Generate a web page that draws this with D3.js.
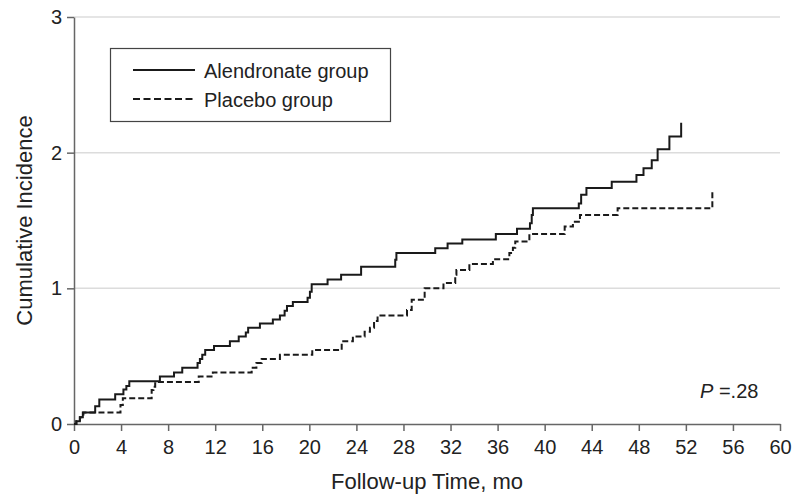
<!DOCTYPE html>
<html>
<head>
<meta charset="utf-8">
<script src="https://cdn.jsdelivr.net/npm/d3@7"></script>
<style>
  body { margin: 0; background: #fff; }
  svg { font-family: "Liberation Sans", Arial, sans-serif; }
</style>
</head>
<body>
<div id="chart"></div>
<script>
// follow-up months and cumulative incidence
const alendronateTime  = [0, 0.2, 0.5, 0.75, 1.8, 2.15, 3.5, 4.2, 4.45, 4.7, 7.3, 8.5, 9.2, 10.5, 10.7, 10.9, 11.15, 11.9, 13.25, 14.0, 14.6, 14.8, 15.8, 16.9, 17.5, 17.9, 18.1, 18.6, 19.85, 20.05, 20.2, 21.55, 22.7, 24.4, 27.3, 27.4, 30.7, 31.75, 33.0, 35.85, 37.65, 38.75, 38.9, 39.0, 42.9, 43.1, 43.55, 45.7, 47.8, 48.4, 49.1, 49.6, 50.6, 51.6];
const alendronateValue = [0, 0.02, 0.05, 0.085, 0.13, 0.18, 0.22, 0.255, 0.28, 0.315, 0.35, 0.38, 0.415, 0.45, 0.48, 0.51, 0.545, 0.575, 0.61, 0.645, 0.675, 0.71, 0.74, 0.77, 0.80, 0.835, 0.87, 0.90, 0.93, 0.975, 1.03, 1.065, 1.10, 1.16, 1.21, 1.26, 1.295, 1.33, 1.36, 1.40, 1.44, 1.48, 1.54, 1.59, 1.625, 1.69, 1.74, 1.785, 1.835, 1.885, 1.945, 2.025, 2.12, 2.22];

const placeboTime  = [0, 0.2, 0.5, 0.8, 3.95, 4.15, 6.6, 6.75, 6.9, 10.6, 11.8, 15.1, 15.5, 15.95, 17.5, 20.25, 22.75, 23.7, 24.7, 25.15, 25.5, 25.8, 28.3, 28.7, 29.8, 31.4, 32.4, 32.5, 33.6, 35.6, 37.0, 37.3, 37.5, 38.7, 41.7, 42.4, 43.0, 46.2, 54.25];
const placeboValue = [0, 0.02, 0.05, 0.085, 0.14, 0.19, 0.25, 0.275, 0.31, 0.35, 0.38, 0.415, 0.45, 0.48, 0.51, 0.545, 0.61, 0.645, 0.68, 0.71, 0.76, 0.80, 0.84, 0.915, 1.0, 1.04, 1.10, 1.135, 1.18, 1.215, 1.26, 1.30, 1.345, 1.40, 1.455, 1.49, 1.54, 1.59, 1.71];

const xTicks = d3.range(0, 61, 4);
const yTicks = [0, 1, 2, 3];
const seriesNames = ["Alendronate group", "Placebo group"];
const pLabel = "=.28";

const width = 797, height = 500;
const margin = {top: 17, right: 17, bottom: 76, left: 74};

const svg = d3.select("#chart").append("svg")
  .attr("width", width)
  .attr("height", height);

const x = d3.scaleLinear().domain([0, 60]).range([margin.left, width - margin.right]);
const y = d3.scaleLinear().domain([0, 3]).range([height - margin.bottom, margin.top]);

// grid
svg.append("g").selectAll("line")
  .data(yTicks.filter(d => d > 0))
  .enter().append("line")
  .attr("x1", x(0)).attr("x2", x(60))
  .attr("y1", d => y(d)).attr("y2", d => y(d))
  .attr("stroke", "#dcdcdc")
  .attr("stroke-width", 1.5);

// axes
const xAxis = svg.append("g")
  .attr("transform", "translate(0," + y(0) + ")")
  .call(d3.axisBottom(x).tickValues(xTicks).tickSize(7).tickPadding(9).tickSizeOuter(0));

const yAxis = svg.append("g")
  .attr("transform", "translate(" + x(0) + ",0)")
  .call(d3.axisLeft(y).tickValues(yTicks).tickFormat(d3.format("d")).tickSize(7).tickPadding(5).tickSizeOuter(0));

[xAxis, yAxis].forEach(g => {
  g.select(".domain").attr("stroke", "#666").attr("stroke-width", 1.5);
  g.selectAll(".tick line").attr("stroke", "#666").attr("stroke-width", 1.5);
  g.selectAll(".tick text")
    .attr("fill", "#222")
    .style("font-size", "20px")
    .style("font-family", "Liberation Sans, Arial, sans-serif");
});

// axis titles
svg.append("text")
  .attr("x", (x(0) + x(60)) / 2)
  .attr("y", 489)
  .attr("text-anchor", "middle")
  .attr("fill", "#222")
  .style("font-size", "22px")
  .text("Follow-up Time, mo");

svg.append("text")
  .attr("transform", "translate(32," + (y(0) + y(3)) / 2 + ") rotate(-90)")
  .attr("text-anchor", "middle")
  .attr("fill", "#222")
  .style("font-size", "22px")
  .text("Cumulative Incidence");

// curves
const line = d3.line()
  .x(d => x(d[0]))
  .y(d => y(d[1]))
  .curve(d3.curveStepAfter);

const series = [
  {pts: d3.zip(alendronateTime, alendronateValue), dash: null},
  {pts: d3.zip(placeboTime, placeboValue), dash: "6,3"}
];

svg.append("g").selectAll("path")
  .data(series)
  .enter().append("path")
  .attr("d", d => line(d.pts))
  .attr("fill", "none")
  .attr("stroke", "#1a1a1a")
  .attr("stroke-width", 2)
  .attr("stroke-dasharray", d => d.dash);

// legend
const legend = svg.append("g");
legend.append("rect")
  .attr("x", 110.5).attr("y", 48.5)
  .attr("width", 280).attr("height", 73)
  .attr("fill", "#fff")
  .attr("stroke", "#444")
  .attr("stroke-width", 1.2);

const legendRows = legend.selectAll(".row")
  .data(seriesNames)
  .enter().append("g")
  .attr("class", "row")
  .attr("transform", (d, i) => "translate(0," + (70 + i * 29) + ")");

legendRows.append("line")
  .attr("x1", 133).attr("x2", 195)
  .attr("stroke", "#1a1a1a")
  .attr("stroke-width", 2)
  .attr("stroke-dasharray", (d, i) => series[i].dash ? "7,3.5" : null);

legendRows.append("text")
  .attr("x", 204)
  .attr("y", 8)
  .attr("fill", "#222")
  .style("font-size", "20px")
  .text(d => d);

// p value
const p = svg.append("text")
  .attr("x", 700)
  .attr("y", 398)
  .attr("fill", "#222")
  .style("font-size", "20px");
p.append("tspan").style("font-style", "italic").text("P");
p.append("tspan").text(" " + pLabel);
</script>
</body>
</html>
